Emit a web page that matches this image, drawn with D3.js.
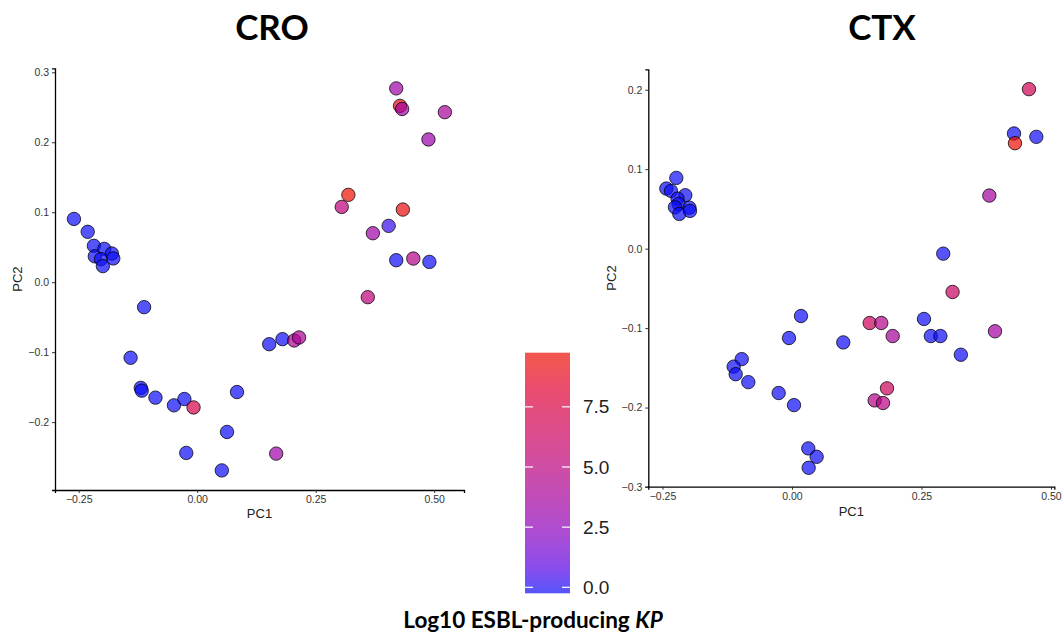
<!DOCTYPE html>
<html><head><meta charset="utf-8">
<script src="https://cdn.jsdelivr.net/npm/d3@7"></script>
<style>
body{margin:0;background:#fff;}
svg text{font-family:"Liberation Sans",Arial,sans-serif;}
</style></head>
<body>
<svg id="c" width="1064" height="639"></svg>
<script>
// ---- data ----
const panels = ["CRO", "CTX"];
const croPC1 = [-0.260,-0.231,-0.218,-0.216,-0.196,-0.203,-0.199,-0.180,-0.177,
  -0.112,-0.1405,-0.119,-0.117,-0.088,-0.049,-0.027,-0.0077,-0.023,0.052,0.063,0.084,
  0.152,0.180,0.2047,0.215,0.1667,0.420,0.428,0.4325,0.5226,0.488,0.319,0.305,0.434,
  0.404,0.3707,0.420,0.456,0.490,0.360];
const croPC2 = [0.0904,0.072,0.052,0.037,0.0476,0.033,0.023,0.041,0.034,
  -0.0357,-0.108,-0.151,-0.155,-0.165,-0.176,-0.167,-0.179,-0.244,-0.269,-0.214,-0.157,
  -0.0886,-0.0814,-0.0833,-0.079,-0.245,0.277,0.252,0.2476,0.243,0.204,0.1248,0.1076,0.1038,
  0.0805,0.070,0.0314,0.0338,0.029,-0.0214];
const croKP = [0,0,0,0,0,0,0,0,0,
  0,0,0,0,0,0,0,7.2,0,0,0,0,
  0,0,4,4,3.3,3.3,9.3,3.6,3.8,3,9.5,5.2,9.3,
  0.3,3.3,0,4.6,0,5.2];
const ctxPC1 = [0.4575,0.4286,0.4305,0.4717,0.381,0.292,0.310,0.2548,0.268,0.2865,0.326,0.3919,
  0.150,0.1724,0.1944,0.1834,0.1596,0.1757,0.0174,-0.0058,0.099,-0.097,-0.1126,-0.1087,-0.0843,
  -0.0257,0.0039,0.0315,0.0476,0.0322,
  -0.2426,-0.2336,-0.2233,-0.206,-0.221,-0.219,-0.2259,-0.2175,-0.198,-0.1969];
const ctxPC2 = [0.2007,0.1449,0.1327,0.1407,0.0668,-0.0063,-0.0545,-0.0885,-0.110,-0.110,-0.1335,-0.104,
  -0.0936,-0.0936,-0.110,-0.1758,-0.191,-0.1943,-0.0848,-0.1125,-0.118,-0.139,-0.1485,-0.158,-0.168,
  -0.1817,-0.1969,-0.2514,-0.262,-0.2758,
  0.0756,0.0727,0.089,0.0672,0.063,0.0563,0.052,0.0437,0.0516,0.0475];
const ctxKP = [6.8,0,9.5,0,3.6,0,6.2,0,0,0,0,3.6,
  6.4,4.6,3.8,6.4,4.6,4.8,0,0,0,0,0,0,0,
  0,0,0,0,0,
  0,0,0,0,0,0,0,0,0,0];
const xTicks = [-0.25, 0, 0.25, 0.5];
const croYTicks = [-0.2,-0.1,0,0.1,0.2,0.3];
const ctxYTicks = [-0.3,-0.2,-0.1,0,0.1,0.2];
const legendTicks = [0, 2.5, 5, 7.5];
const kpRange = [0, 9.5];

// ---- drawing ----
const svg = d3.select("#c");
const color = d3.scaleLinear().domain(kpRange).range(["#0c0cf8","#ec0e00"]).interpolate(d3.interpolateLab).clamp(true);
const ALPHA = 0.7;
const minus = s => s.replace("-", "\u2212");

const specs = [
  {name: panels[0], x: croPC1, y: croPC2, v: croKP, yt: croYTicks,
   xr:[55,464], xd:[-0.300,0.563], yr:[490,68.3], yd:[-0.297,0.3057], tx:272, ly:518, lyx:18},
  {name: panels[1], x: ctxPC1, y: ctxPC2, v: ctxKP, yt: ctxYTicks,
   xr:[648.3,1054.3], xd:[-0.2774,0.5064], yr:[486.7,69.3], yd:[-0.2996,0.2257], tx:882, ly:516, lyx:612}
];

specs.forEach(p => {
  const xs = d3.scaleLinear().domain(p.xd).range(p.xr);
  const ys = d3.scaleLinear().domain(p.yd).range(p.yr);
  const g = svg.append("g");
  const xa = g.append("g").attr("transform", `translate(0,${p.yr[0]})`)
    .call(d3.axisBottom(xs).tickValues(xTicks).tickFormat(d => minus(d3.format(".2f")(d))).tickSizeOuter(0).tickSize(3).tickPadding(3));
  const ya = g.append("g").attr("transform", `translate(${p.xr[0]},0)`)
    .call(d3.axisLeft(ys).tickValues(p.yt).tickFormat(d => minus(d3.format(".1f")(d))).tickSizeOuter(0).tickSize(3).tickPadding(3));
  [xa, ya].forEach(a => {
    a.select(".domain").attr("stroke","#000").attr("stroke-width",1.3);
    a.selectAll(".tick line").attr("stroke","#333").attr("stroke-width",1);
    a.selectAll(".tick text").attr("fill","#333").style("font-size","10.5px");
  });
  g.append("text").attr("x", (p.xr[0]+p.xr[1])/2 + 0).attr("y", p.ly).attr("text-anchor","middle")
    .style("font-size","13px").attr("fill","#222").text("PC1");
  g.append("text").attr("transform", `translate(${p.lyx + 4},${(p.yr[0]+p.yr[1])/2}) rotate(-90)`)
    .attr("text-anchor","middle").style("font-size","13px").attr("fill","#222").text("PC2");
  g.append("text").attr("x", p.tx).attr("y", 40).attr("text-anchor","middle")
    .style("font-family","Lato, 'Open Sans', sans-serif").style("font-weight","bold").style("font-size","35px")
    .attr("fill","#000").text(p.name);
  const data = p.x.map((d,i) => ({x:d, y:p.y[i], v:p.v[i]}));
  g.append("g").selectAll("circle").data(data).join("circle")
    .attr("cx", d => xs(d.x)).attr("cy", d => ys(d.y)).attr("r", 6.7)
    .attr("fill", d => color(d.v)).attr("fill-opacity", ALPHA)
    .attr("stroke", "#000").attr("stroke-opacity", 0.75).attr("stroke-width", 1);
});

// ---- colour bar ----
const barX = 525, barW = 45, barTop = 352.7, barBot = 593.3;
const ly = d3.scaleLinear().domain(kpRange).range([587.3, 358.7]);
const defs = svg.append("defs");
const grad = defs.append("linearGradient").attr("id","kpg").attr("x1",0).attr("x2",0).attr("y1",1).attr("y2",0);
d3.range(0, 21).forEach(i => {
  const yy = barBot - (barBot - barTop) * i / 20;
  const v = ly.invert(yy);
  grad.append("stop").attr("offset", i/20).attr("stop-color", color(v)).attr("stop-opacity", ALPHA);
});
svg.append("rect").attr("x", barX).attr("y", barTop).attr("width", barW).attr("height", barBot - barTop).attr("fill","url(#kpg)");
legendTicks.forEach(t => {
  svg.append("line").attr("x1", barX).attr("x2", barX+8).attr("y1", ly(t)).attr("y2", ly(t)).attr("stroke","#fff").attr("stroke-width",1.2);
  svg.append("line").attr("x1", barX+barW-8).attr("x2", barX+barW).attr("y1", ly(t)).attr("y2", ly(t)).attr("stroke","#fff").attr("stroke-width",1.2);
  svg.append("text").attr("x", 583).attr("y", ly(t)).attr("dy","0.35em").style("font-size","19px").attr("fill","#222")
    .text(d3.format(".1f")(t));
});
const lt = svg.append("text").attr("x", 533).attr("y", 628).attr("text-anchor","middle")
  .style("font-family","Lato, 'Open Sans', sans-serif").style("font-weight","bold").style("font-size","22.5px").attr("fill","#000");
lt.append("tspan").text("Log10 ESBL-producing ");
lt.append("tspan").style("font-style","italic").text("KP");
</script>
</body></html>
